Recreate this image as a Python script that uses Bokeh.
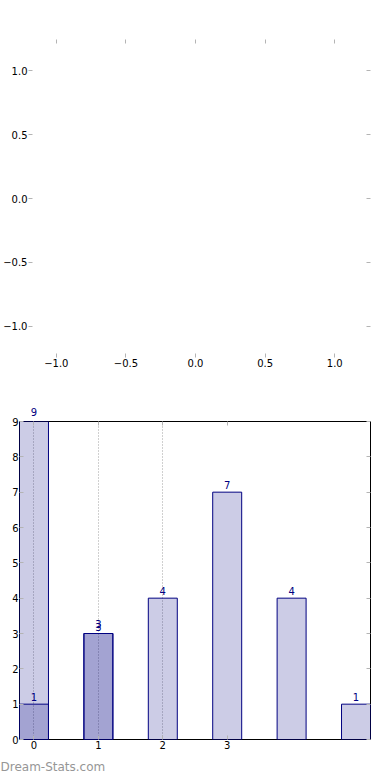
from bokeh.plotting import figure
from bokeh.layouts import column
from bokeh.models import (LinearAxis, FixedTicker, Range1d, Label, Title,
                          ColumnDataSource, CustomJSTickFormatter)
from bokeh.embed import file_html
from bokeh.resources import INLINE

# ---------------- data ----------------
# top (empty) panel tick values
top_x_ticks = [-1.0, -0.5, 0.0, 0.5, 1.0]
top_y_ticks = [-1.0, -0.5, 0.0, 0.5, 1.0]

# bottom panel: two overlapping bar series
positions_a = [0, 1, 2, 3, 4, 5]
counts_a = [9, 3, 4, 7, 4, 1]
positions_b = [0, 1]
counts_b = [1, 3]
x_tick_positions = [0, 1, 2, 3]
x_tick_labels = ["0", "1", "2", "3"]
grid_positions = [0, 1, 2]
y_tick_values = [0, 1, 2, 3, 4, 5, 6, 7, 8, 9]
watermark = "Dream-Stats.com"

FONT = "DejaVu Sans"
TICK_GRAY = "#b4b4b4"
NAVY = "#000080"

fmt_num = CustomJSTickFormatter(code="return tick.toFixed(1).replace('-', '\u2212');")
fmt_none = CustomJSTickFormatter(code="return '';")


def style_axis(ax, ticks, show_labels=True, formatter=None):
    ax.ticker = FixedTicker(ticks=ticks)
    ax.axis_line_color = None
    ax.major_tick_in = 4
    ax.major_tick_out = 0
    ax.minor_tick_line_color = None
    ax.major_tick_line_color = TICK_GRAY
    ax.major_tick_line_width = 1
    ax.major_label_text_font = FONT
    ax.major_label_text_font_size = "10px"
    ax.major_label_text_color = "black"
    ax.major_label_standoff = 1 if show_labels else 0
    if not show_labels:
        ax.formatter = fmt_none
    elif formatter is not None:
        ax.formatter = formatter


# ---------------- top panel ----------------
top = figure(width=372, height=380,
             x_range=Range1d(-1.2, 1.257), y_range=Range1d(-1.2422, 1.2422),
             output_backend="svg", toolbar_location=None,
             min_border_left=26, min_border_right=2,
             min_border_top=39, min_border_bottom=23,
             x_axis_location=None, y_axis_location=None)
top.frame_align = False
top.outline_line_color = None
top.grid.visible = False
top.background_fill_color = "white"
top.border_fill_color = "white"
for loc in ["left", "right", "above", "below"]:
    ax = LinearAxis()
    if loc in ("left", "right"):
        style_axis(ax, top_y_ticks, show_labels=(loc == "left"), formatter=fmt_num)
    else:
        style_axis(ax, top_x_ticks, show_labels=(loc == "below"), formatter=fmt_num)
    top.add_layout(ax, loc)
top.scatter(x=[0.0], y=[0.0], size=0, alpha=0)

# ---------------- bottom panel ----------------
bw = 0.45
y_top = max(counts_a)
bot = figure(width=372, height=400,
             x_range=Range1d(positions_a[0] - bw / 2, positions_a[-1] + bw / 2),
             y_range=Range1d(0, y_top),
             output_backend="svg", toolbar_location=None,
             min_border_left=19, min_border_right=2,
             min_border_top=41, min_border_bottom=40,
             x_axis_location=None, y_axis_location=None)
bot.frame_align = False
bot.outline_line_color = "black"
bot.outline_line_width = 1
bot.background_fill_color = "white"
bot.border_fill_color = "white"
bot.ygrid.visible = False
bot.xgrid.ticker = FixedTicker(ticks=grid_positions)
bot.xgrid.grid_line_color = "#a0a0a0"
bot.xgrid.grid_line_dash = "1 2"
bot.xgrid.grid_line_width = 1

for loc in ["left", "right", "above", "below"]:
    ax = LinearAxis()
    if loc in ("left", "right"):
        style_axis(ax, y_tick_values, show_labels=(loc == "left"))
    else:
        style_axis(ax, x_tick_positions, show_labels=(loc == "below"))
        if loc == "below":
            ax.major_label_overrides = {p: l for p, l in zip(x_tick_positions, x_tick_labels)}
    bot.add_layout(ax, loc)

src_a = ColumnDataSource(dict(x=positions_a, top=counts_a))
src_b = ColumnDataSource(dict(x=positions_b, top=counts_b))
for src in (src_a, src_b):
    bot.vbar(x="x", top="top", bottom=0, width=bw, source=src,
             fill_color=NAVY, fill_alpha=0.2, line_color=NAVY, line_width=1)

# value labels; a label sitting on the frame's top edge goes in the top panel
for xs, ys, extra in ((positions_a, counts_a, True), (positions_b, counts_b, False)):
    for xv, yv in zip(xs, ys):
        off = 6 if (extra and xv in positions_b) else 3
        lab = Label(x=xv, y=yv, text=str(yv), y_offset=off,
                    text_align="center", text_baseline="bottom",
                    text_color=NAVY, text_font=FONT, text_font_size="10px")
        bot.add_layout(lab, "above" if yv >= y_top else "center")

bot.add_layout(Title(text=watermark, align="left", offset=-19, standoff=13,
                     text_font=FONT, text_font_size="12px", text_font_style="normal",
                     text_color="#969696"), "below")

layout = column(top, bot, spacing=0)
open("out.html", "w").write(file_html(layout, INLINE))
